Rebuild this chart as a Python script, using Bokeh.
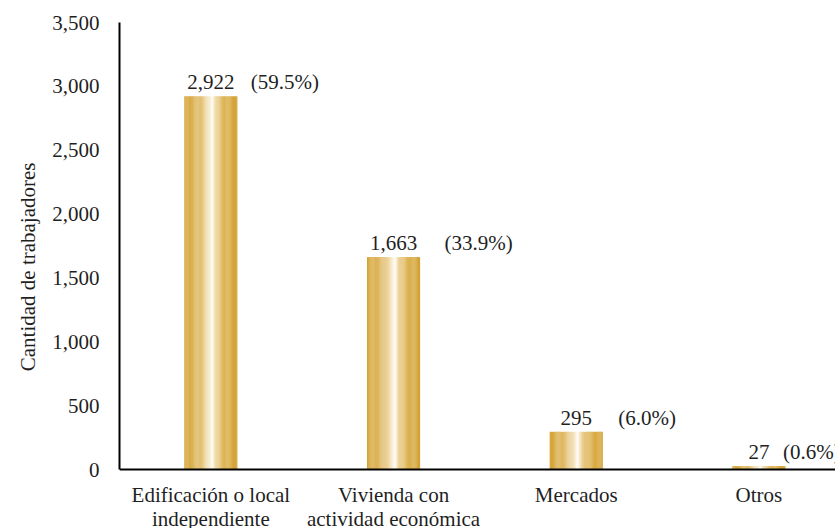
from bokeh.plotting import figure
from bokeh.models import Range1d, FixedTicker, NumeralTickFormatter, ColumnDataSource, Span, Title
from bokeh.core.properties import value
from bokeh.embed import file_html
from bokeh.resources import INLINE

# ---- data ----
categories = ["Edificación o local\nindependiente", "Vivienda con\nactividad económica", "Mercados", "Otros"]
counts = [2922, 1663, 295, 27]
pct_labels = ["(59.5%)", "(33.9%)", "(6.0%)", "(0.6%)"]
count_labels = ["2,922", "1,663", "295", "27"]
y_ticks = [0, 500, 1000, 1500, 2000, 2500, 3000, 3500]
y_title = "Cantidad de trabajadores"

# layout tweak: horizontal offset (px) of percentage labels from bar centre
pct_offsets_px = [40, 51, 42, 24]

FONT = "Liberation Serif"
TXT = "#1f1f1f"
YMAX = 3500
TOP, AXIS_Y, H = 22, 469, 528          # pixel rows of top, zero line, canvas bottom
PX = YMAX / (AXIS_Y - TOP)             # data units per pixel
positions = [i + 1 for i in range(len(categories))]

p = figure(width=835, height=H, output_backend="svg", toolbar_location=None,
           x_range=Range1d(0.5, 0.5 + 716 / 182.7),
           y_range=Range1d(-(H - AXIS_Y) * PX, YMAX),
           min_border_left=119, min_border_right=0, min_border_top=TOP, min_border_bottom=0)
p.outline_line_color = None
p.xgrid.grid_line_color = None
p.ygrid.grid_line_color = None
p.background_fill_color = "white"
p.border_fill_color = "white"
p.xaxis.visible = False

# ---- gradient bars built from thin strips ----
def hex2rgb(h):
    h = h.lstrip("#")
    return tuple(int(h[i:i + 2], 16) for i in (0, 2, 4))

stops = [(0.0, "#D4A232"), (0.30, "#E2BE6E"), (0.46, "#F4E4C0"), (0.53, "#FFFDF6"),
         (0.60, "#EDD298"), (0.75, "#DDB455"), (1.0, "#D3A030")]

def grad(t):
    for (t0, c0), (t1, c1) in zip(stops[:-1], stops[1:]):
        if t0 <= t <= t1:
            f = (t - t0) / (t1 - t0) if t1 > t0 else 0
            a, b = hex2rgb(c0), hex2rgb(c1)
            return "#%02x%02x%02x" % tuple(int(round(a[k] + (b[k] - a[k]) * f)) for k in range(3))
    return stops[-1][1]

N = 48
bw = 0.29
xs, tops, cols = [], [], []
for pos, c in zip(positions, counts):
    for k in range(N):
        t = (k + 0.5) / N
        xs.append(pos - bw / 2 + t * bw)
        tops.append(c)
        cols.append(grad(t))
p.vbar(x=xs, top=tops, bottom=0, width=bw / N * 1.15, fill_color=cols, line_color=None)

# ---- x axis line at zero ----
p.add_layout(Span(location=0, dimension="width", line_color="black", line_width=2))

# ---- value labels ----
src = ColumnDataSource(dict(x=positions, y=counts, c=count_labels, pct=pct_labels, dx=pct_offsets_px))
p.text(x="x", y="y", text="c", source=src, text_align="center", text_baseline="alphabetic",
       y_offset=-14, text_font=value(FONT), text_font_size="21px", text_color=TXT)
p.text(x="x", y="y", text="pct", source=src, text_align="left", text_baseline="alphabetic",
       x_offset="dx", y_offset=-14, text_font=value(FONT), text_font_size="21px", text_color=TXT)

# ---- category labels below the zero line ----
p.text(x=positions, y=[0] * len(positions), text=categories, text_align="center",
       text_baseline="top", y_offset=13, text_font=value(FONT), text_font_size="21px",
       text_color=TXT, text_line_height=1.0)

# ---- y axis ----
p.yaxis.ticker = FixedTicker(ticks=y_ticks)
p.yaxis.formatter = NumeralTickFormatter(format="0,0")
p.yaxis.bounds = (0, YMAX)
p.yaxis.axis_line_color = "black"
p.yaxis.axis_line_width = 2
p.yaxis.major_tick_line_color = None
p.yaxis.minor_tick_line_color = None
p.yaxis.major_label_text_font = FONT
p.yaxis.major_label_text_color = TXT
p.yaxis.major_label_text_font_size = "21px"
p.yaxis.major_label_standoff = 14

# y title as a side title so it can be shifted vertically
p.add_layout(Title(text=y_title, align="right", offset=140, standoff=19,
                   text_font=FONT, text_font_size="21px", text_font_style="normal",
                   text_color=TXT), "left")

open("out.html", "w").write(file_html(p, INLINE))
